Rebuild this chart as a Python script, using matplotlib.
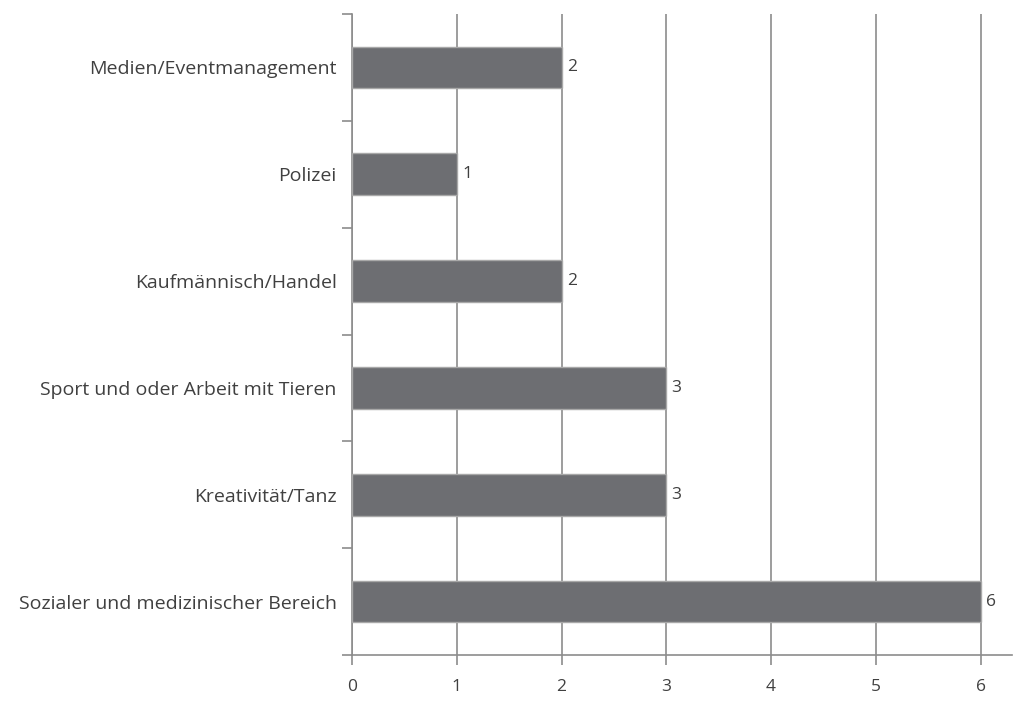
import matplotlib
matplotlib.use("Agg")
from matplotlib import pyplot as plt
import numpy as np

# Kategorien von unten nach oben, wie im Diagramm
categories = [
    "Sozialer und medizinischer Bereich",
    "Kreativität/Tanz",
    "Sport und oder Arbeit mit Tieren",
    "Kaufmännisch/Handel",
    "Polizei",
    "Medien/Eventmanagement",
]
values = [6, 3, 3, 2, 1, 2]
x_ticks = [0, 1, 2, 3, 4, 5, 6]

plt.rcParams['font.family'] = ['Open Sans', 'DejaVu Sans']

fig = plt.figure(figsize=(10.13, 7.03), dpi=100)
ax = fig.add_axes([352 / 1013, 1 - 655 / 703, (1012 - 352) / 1013, (655 - 14) / 703])

ypos = np.arange(len(categories))
ax.barh(ypos, values, height=0.39, color="#6d6e72", edgecolor="#a8a8a8", linewidth=1, zorder=3)

for y, v in zip(ypos, values):
    ax.text(v + 0.05, y, str(v), va="center", ha="left", fontsize=12.5, color="#404040", zorder=4)

ax.set_xlim(0, 6.3)
ax.set_ylim(-0.5, len(categories) - 0.5)

ax.set_xticks(x_ticks)
ax.set_xticklabels([str(t) for t in x_ticks], fontsize=12.5, color="#404040")
ax.set_yticks(ypos)
ax.set_yticklabels(categories, fontsize=14, color="#404040")
ax.set_yticks(np.arange(-0.5, len(categories)), minor=True)

ax.tick_params(axis="y", which="major", length=0, pad=11)
ax.tick_params(axis="y", which="minor", length=7, width=1.2, color="#8c8c8c")
ax.tick_params(axis="x", length=7, width=1.2, color="#8c8c8c", pad=10)

ax.grid(axis="x", color="#8c8c8c", linewidth=1.2, zorder=0)
ax.set_axisbelow(True)

for s in ["top", "right"]:
    ax.spines[s].set_visible(False)
for s in ["left", "bottom"]:
    ax.spines[s].set_color("#8c8c8c")
    ax.spines[s].set_linewidth(1.2)

fig.savefig("out.png", dpi=100)
